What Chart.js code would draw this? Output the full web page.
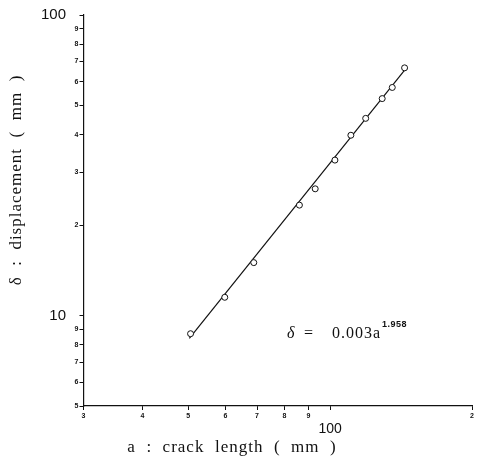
<!DOCTYPE html>
<html lang="en">
  <head>
    <meta charset="UTF-8" />
    <title>Displacement vs crack length</title>
    <script src="https://cdn.jsdelivr.net/npm/chart.js"></script>
    <style>
      html, body { margin: 0; padding: 0; background: #fff; }
      #wrap { position: relative; width: 477px; height: 461px; }
    </style>
  </head>
  <body>
    <div id="wrap">
      <canvas id="grafico"></canvas>
    </div>
  </body>
</html>

<script>
  // medidas: comprimento da trinca (mm) e deslocamento (mm)
  var crackLength = [50.6, 59.8, 68.9, 86.1, 93.0, 102.4, 110.7, 119.0, 129.0, 135.5, 143.9];
  var displacement = [8.7, 11.5, 15.0, 23.3, 26.4, 32.9, 39.8, 45.3, 52.7, 57.4, 66.7];

  // reta ajustada (extremos)
  var fitLength = [50.3, 144.5];
  var fitDisplacement = [8.4, 66.0];

  // marcas dos eixos
  var xTicks = [30, 40, 50, 60, 70, 80, 90, 100, 200];
  var yTicks = [5, 6, 7, 8, 9, 10, 20, 30, 40, 50, 60, 70, 80, 90, 100];

  var tinta = "#111";

  function ehDecada(v) {
    return v === 10 || v === 100;
  }

  function pares(xs, ys) {
    var out = [];
    for (var i = 0; i < xs.length; i++) {
      out.push({ x: xs[i], y: ys[i] });
    }
    return out;
  }

  // títulos dos eixos e a equação
  const textos = {
    id: "textos",
    afterDraw(chart) {
      const ctx = chart.ctx;
      const xs = chart.scales.x;
      const ys = chart.scales.y;
      ctx.save();
      ctx.fillStyle = tinta;
      ctx.font = "17px 'Liberation Serif'";
      ctx.letterSpacing = "1px";
      ctx.textAlign = "center";
      ctx.textBaseline = "middle";
      ctx.fillText("a  :  crack  length  (  mm  )", 232, 448);

      ctx.translate(17, 180);
      ctx.rotate(-Math.PI / 2);
      ctx.fillText("\u03b4  :  displacement  (  mm  )", 0, 0);
      ctx.restore();

      // δ = 0.003a^1.958
      ctx.save();
      ctx.fillStyle = tinta;
      ctx.letterSpacing = "1px";
      ctx.textAlign = "left";
      ctx.textBaseline = "alphabetic";
      var px = xs.getPixelForValue(81);
      var py = ys.getPixelForValue(8.7) + 4;
      ctx.font = "italic 16px 'Liberation Serif'";
      ctx.fillText("\u03b4", px, py);
      ctx.font = "16px 'Liberation Serif'";
      ctx.fillText("=", px + 17, py);
      ctx.fillText("0.003a", px + 45, py);
      var w = ctx.measureText("0.003a").width;
      ctx.font = "bold 9px 'Liberation Sans'";
      ctx.letterSpacing = "0.5px";
      ctx.fillText("1.958", px + 45 + w + 1, py - 11);
      ctx.restore();
    },
  };

  const ctx = document.getElementById("grafico");
  ctx.width = 477;
  ctx.height = 461;

  new Chart(ctx, {
    type: "scatter",
    data: {
      datasets: [
        {
          label: "ajuste",
          data: pares(fitLength, fitDisplacement),
          showLine: true,
          borderColor: tinta,
          borderWidth: 1.2,
          pointRadius: 0,
          order: 2,
        },
        {
          label: "medidas",
          data: pares(crackLength, displacement),
          pointStyle: "circle",
          pointRadius: 3,
          pointBorderWidth: 1,
          borderColor: tinta,
          backgroundColor: "#fff",
          order: 1,
        },
      ],
    },
    options: {
      responsive: false,
      animation: false,
      layout: { padding: { top: 15, right: 2, left: 0, bottom: 0 } },
      plugins: {
        legend: { display: false },
        tooltip: { enabled: false },
      },
      scales: {
        x: {
          type: "logarithmic",
          min: 30,
          max: 200,
          afterBuildTicks: (scale) => {
            scale.ticks = xTicks.map((v) => ({ value: v }));
          },
          afterFit: (scale) => {
            scale.height = 55;
          },
          border: { display: true, color: tinta, width: 1.2 },
          grid: { drawOnChartArea: false, drawTicks: true, tickLength: 4, color: tinta },
          ticks: {
            autoSkip: false,
            maxRotation: 0,
            minRotation: 0,
            padding: 2,
            color: tinta,
            font: (c) =>
              c.tick && c.tick.value === 100
                ? { family: "'Liberation Sans'", size: 14, lineHeight: 2.5 }
                : { family: "'Liberation Sans'", size: 7, weight: "bold", lineHeight: 1.2 },
            callback: (v) => (v === 100 ? "100" : String(v).charAt(0)),
          },
        },
        y: {
          type: "logarithmic",
          min: 5,
          max: 100,
          afterBuildTicks: (scale) => {
            scale.ticks = yTicks.map((v) => ({ value: v }));
          },
          afterFit: (scale) => {
            scale.width = 83.5;
          },
          border: { display: true, color: tinta, width: 1.2 },
          grid: { drawOnChartArea: false, drawTicks: true, tickLength: 4, color: tinta },
          ticks: {
            autoSkip: false,
            padding: 1,
            color: tinta,
            font: (c) =>
              c.tick && ehDecada(c.tick.value)
                ? { family: "'Liberation Sans'", size: 15 }
                : { family: "'Liberation Sans'", size: 7, weight: "bold" },
            callback: (v) => (ehDecada(v) ? String(v) + "   " : String(v).charAt(0)),
          },
        },
      },
    },
    plugins: [textos],
  });
</script>
